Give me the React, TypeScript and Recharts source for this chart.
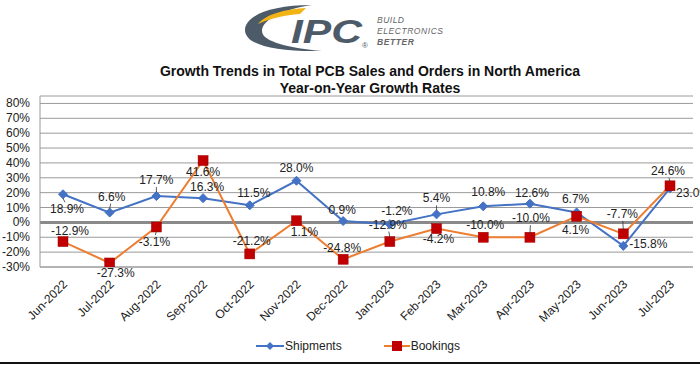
import React from "react";
import {
  LineChart,
  Line,
  XAxis,
  YAxis,
  CartesianGrid,
  ReferenceLine,
  Legend,
  LabelList,
} from "recharts";

const categories = [
  "Jun-2022", "Jul-2022", "Aug-2022", "Sep-2022", "Oct-2022", "Nov-2022", "Dec-2022",
  "Jan-2023", "Feb-2023", "Mar-2023", "Apr-2023", "May-2023", "Jun-2023", "Jul-2023",
];
const shipments = [18.9, 6.6, 17.7, 16.3, 11.5, 28.0, 0.9, -1.2, 5.4, 10.8, 12.6, 6.7, -15.8, 23.0];
const bookings = [-12.9, -27.3, -3.1, 41.6, -21.2, 1.1, -24.8, -12.9, -4.2, -10.0, -10.0, 4.1, -7.7, 24.6];
const yTicks = [-30, -20, -10, 0, 10, 20, 30, 40, 50, 60, 70, 80];

// label placement (offset of label centre from its point)
const shipmentLabelOffsets: [number, number][] = [
  [4, 15], [2, -16], [0, -16], [4, -11], [4, -12], [0, -13], [-1, -11],
  [7, -13], [0, -16], [5, -14], [2, -11], [-1, -13], [25, -2], [23, 5],
];
const bookingLabelOffsets: [number, number][] = [
  [7, -11], [6, 10], [-2, 15], [0, 11], [2, -13], [8, 11], [-1, -11],
  [-2, -17], [2, 10], [2, -12], [1, -19], [-1, 14], [-1, -20], [-2, -15],
];

const data = categories.map((c, i) => ({
  month: c,
  Shipments: shipments[i],
  Bookings: bookings[i],
}));

const FONT = "'Liberation Sans', Arial, sans-serif";
const BLUE = "#4472C4";
const ORANGE = "#ED7D31";
const RED = "#C00000";

const makeLabel = (offsets: [number, number][]) => (props: any) => {
  const { x, y, value, index } = props;
  if (x == null || y == null) return null;
  const [dx, dy] = offsets[index] || [0, -12];
  const lx = x + dx;
  const ly = y + dy;
  const showLeader = Math.abs(dy) >= 15 && Math.abs(dx) < 10;
  return (
    <g>
      {showLeader && (
        <line
          x1={x}
          y1={y + (dy > 0 ? 4 : -4)}
          x2={x + dx * 0.5}
          y2={ly + (dy > 0 ? -7 : 7)}
          stroke="#333"
          strokeWidth={0.8}
        />
      )}
      <text
        x={lx}
        y={ly}
        textAnchor="middle"
        dominantBaseline="central"
        fontSize={12}
        fontFamily={FONT}
        fill="#222"
      >
        {value.toFixed(1)}%
      </text>
    </g>
  );
};

const Diamond = (props: any) => {
  const { cx, cy } = props;
  if (cx == null || cy == null) return null;
  const s = 4.5;
  return (
    <polygon
      points={`${cx},${cy - s} ${cx + s},${cy} ${cx},${cy + s} ${cx - s},${cy}`}
      fill={BLUE}
      stroke={BLUE}
    />
  );
};

const Square = (props: any) => {
  const { cx, cy } = props;
  if (cx == null || cy == null) return null;
  return <rect x={cx - 5} y={cy - 5} width={10} height={10} fill={RED} stroke="#A00000" strokeWidth={0.5} />;
};

const XTick = (props: any) => {
  const { x, y, payload } = props;
  const tx = x + 5;
  const ty = y + 10;
  return (
    <text
      x={tx}
      y={ty}
      transform={`rotate(-45, ${tx}, ${ty})`}
      textAnchor="end"
      fontSize={12}
      fontFamily={FONT}
      fill="#222"
    >
      {payload.value}
    </text>
  );
};

const YTick = (props: any) => {
  const { x, y, payload } = props;
  return (
    <text x={x} y={y} textAnchor="end" dominantBaseline="central" fontSize={12} fontFamily={FONT} fill="#222">
      {payload.value}%
    </text>
  );
};

const LegendContent = () => (
  <div style={{ display: "flex", justifyContent: "center", paddingLeft: 16, fontFamily: FONT, fontSize: 12, color: "#222" }}>
    <div style={{ display: "flex", alignItems: "center", marginRight: 42 }}>
      <svg width={28} height={12}>
        <line x1={0} y1={6} x2={28} y2={6} stroke={BLUE} strokeWidth={2} />
        <polygon points="14,2 18,6 14,10 10,6" fill={BLUE} />
      </svg>
      <span style={{ marginLeft: 1 }}>Shipments</span>
    </div>
    <div style={{ display: "flex", alignItems: "center" }}>
      <svg width={26} height={12}>
        <line x1={0} y1={6} x2={26} y2={6} stroke={ORANGE} strokeWidth={2} />
        <rect x={8} y={1} width={10} height={10} fill={RED} />
      </svg>
      <span style={{ marginLeft: 1 }}>Bookings</span>
    </div>
  </div>
);

const Logo = () => (
  <svg width={700} height={60} style={{ position: "absolute", left: 0, top: 0 }}>
    <path
      d="M 312 5 C 270 5, 245 16, 245 30 C 245 45, 275 52, 322 51 C 290 48, 262 42, 262 31 C 262 19, 285 9, 312 5 Z"
      fill="#4d5b69"
    />
    <path
      d="M 258 24 C 266 14, 286 9, 306 8 L 300 14 C 285 15, 268 19, 258 24 Z"
      fill="#F2B415"
    />
    <text
      x={291}
      y={43}
      fontFamily={FONT}
      fontWeight="bold"
      fontStyle="italic"
      fontSize={34}
      fill="#4d5b69"
      textLength={71}
      lengthAdjust="spacingAndGlyphs"
    >
      IPC
    </text>
    <text x={362} y={48} fontFamily={FONT} fontSize={8} fill="#4d5b69">®</text>
    <text x={377} y={23} fontFamily={FONT} fontStyle="italic" fontSize={8.5} fill="#666" textLength={27}>BUILD</text>
    <text x={377} y={34} fontFamily={FONT} fontStyle="italic" fontSize={8.5} fill="#666" textLength={66}>ELECTRONICS</text>
    <text x={377} y={45} fontFamily={FONT} fontStyle="italic" fontWeight="bold" fontSize={8.5} fill="#666" textLength={37}>BETTER</text>
  </svg>
);

export default function App() {
  return (
    <div
      style={{
        position: "absolute",
        left: 0,
        top: 0,
        width: 700,
        height: 365,
        background: "#fff",
        overflow: "hidden",
        fontFamily: FONT,
      }}
    >
      <Logo />
      <div
        style={{
          position: "absolute",
          left: 0,
          top: 63,
          width: 740,
          textAlign: "center",
          fontWeight: "bold",
          fontSize: 14,
          lineHeight: "17px",
          color: "#111",
        }}
      >
        Growth Trends in Total PCB Sales and Orders in North America
        <br />
        Year-on-Year Growth Rates
      </div>
      <div style={{ position: "absolute", left: 0, top: 0 }}>
        <LineChart
          width={700}
          height={365}
          data={data}
          margin={{ top: 96, right: 7, bottom: 0, left: 0 }}
        >
          <CartesianGrid vertical={false} stroke="#9a9a9a" strokeWidth={1} />
          <XAxis
            dataKey="month"
            height={84}
            tickLine={false}
            axisLine={{ stroke: "#9a9a9a" }}
            tick={<XTick />}
            interval={0}
            padding={{ left: 23, right: 23 }}
          />
          <YAxis
            width={40}
            domain={[-30, 85]}
            ticks={yTicks}
            interval={0}
            tickLine={false}
            tickMargin={4}
            axisLine={{ stroke: "#9a9a9a" }}
            tick={<YTick />}
            allowDataOverflow
          />
          <ReferenceLine y={0} stroke="#8a8a8a" strokeWidth={3} />
          <Legend
            verticalAlign="bottom"
            content={<LegendContent />}
            wrapperStyle={{ top: 339, left: 0, width: 700 }}
          />
          <Line
            type="linear"
            dataKey="Shipments"
            stroke={BLUE}
            strokeWidth={2}
            dot={<Diamond />}
            isAnimationActive={false}
          >
            <LabelList dataKey="Shipments" content={makeLabel(shipmentLabelOffsets)} />
          </Line>
          <Line
            type="linear"
            dataKey="Bookings"
            stroke={ORANGE}
            strokeWidth={2}
            dot={<Square />}
            isAnimationActive={false}
          >
            <LabelList dataKey="Bookings" content={makeLabel(bookingLabelOffsets)} />
          </Line>
        </LineChart>
      </div>
      <div style={{ position: "absolute", left: 0, top: 362, width: 700, height: 2, background: "#111" }} />
    </div>
  );
}
